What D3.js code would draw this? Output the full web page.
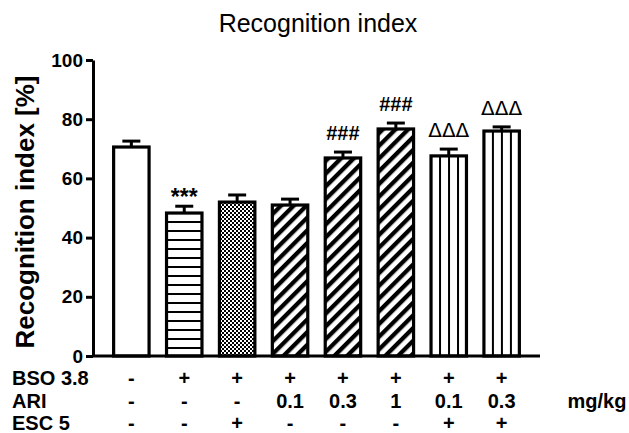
<!DOCTYPE html>
<html>
<head>
<meta charset="utf-8">
<script src="https://cdn.jsdelivr.net/npm/d3@7"></script>
<style>
  html, body { margin: 0; padding: 0; background: #fff; }
  svg { display: block; }
  text { font-family: "Liberation Sans", Arial, sans-serif; fill: #000; }
</style>
</head>
<body>
<svg id="chart" width="629" height="433"></svg>
<script>
// Group means and SEM of the recognition index (%)
const groups = ["g1", "g2", "g3", "g4", "g5", "g6", "g7", "g8"];
const means = [70.6, 48.3, 52.0, 51.0, 66.9, 76.7, 67.6, 76.0];
const sems = [2.0, 2.3, 2.4, 2.0, 2.0, 2.0, 2.3, 1.4];
const marks = ["", "***", "", "", "###", "###", "\u0394\u0394\u0394", "\u0394\u0394\u0394"];
const yTicks = [0, 20, 40, 60, 80, 100];

// Treatment table under the bars
const rowLabels = ["BSO 3.8", "ARI", "ESC 5"];
const bsoRow = ["-", "+", "+", "+", "+", "+", "+", "+"];
const ariRow = ["-", "-", "-", "0.1", "0.3", "1", "0.1", "0.3"];
const escRow = ["-", "-", "+", "-", "-", "-", "+", "+"];
const unitLabel = "mg/kg";

// fill pattern of each bar
const fills = ["white", "url(#hlines)", "url(#checker)", "url(#diag)", "url(#diag)", "url(#diag)", "vlines", "vlines"];

const svg = d3.select("#chart");
const plot = { left: 93, right: 540, top: 60, bottom: 356 };

const x = d3.scaleBand()
  .domain(groups)
  .range([plot.left, plot.right])
  .paddingInner(0.33)
  .paddingOuter(0.39);

const y = d3.scaleLinear().domain([0, 100]).range([plot.bottom, plot.top]);

const defs = svg.append("defs");

// horizontal lines
const hl = defs.append("pattern").attr("id", "hlines")
  .attr("patternUnits", "userSpaceOnUse").attr("width", 9).attr("height", 9)
  .attr("y", y(0));
hl.append("rect").attr("width", 9).attr("height", 9).attr("fill", "white");
hl.append("rect").attr("y", 0).attr("width", 9).attr("height", 2).attr("fill", "black");

// fine checker mesh
const ck = defs.append("pattern").attr("id", "checker")
  .attr("patternUnits", "userSpaceOnUse").attr("width", 4).attr("height", 4);
ck.append("rect").attr("width", 4).attr("height", 4).attr("fill", "black");
ck.append("rect").attr("x", 0).attr("y", 0).attr("width", 2).attr("height", 2).attr("fill", "white");
ck.append("rect").attr("x", 2).attr("y", 2).attr("width", 2).attr("height", 2).attr("fill", "white");

// diagonal hatch "/"
const dg = defs.append("pattern").attr("id", "diag")
  .attr("patternUnits", "userSpaceOnUse").attr("width", 9).attr("height", 9)
  .attr("patternTransform", "rotate(45)");
dg.append("rect").attr("width", 9).attr("height", 9).attr("fill", "white");
dg.append("rect").attr("x", 0).attr("width", 4.3).attr("height", 9).attr("fill", "black");

// vertical lines, one pattern per bar so the lines start from its left edge
groups.forEach((g, i) => {
  if (fills[i] !== "vlines") return;
  const p = defs.append("pattern").attr("id", "vl-" + g)
    .attr("patternUnits", "userSpaceOnUse").attr("width", 9).attr("height", 9)
    .attr("x", x(g) - 1);
  p.append("rect").attr("width", 9).attr("height", 9).attr("fill", "white");
  p.append("rect").attr("x", 0).attr("width", 2).attr("height", 9).attr("fill", "black");
});

// bars
svg.append("g").selectAll("rect")
  .data(groups)
  .join("rect")
  .attr("x", g => x(g))
  .attr("y", (g, i) => y(means[i]))
  .attr("width", x.bandwidth())
  .attr("height", (g, i) => y(0) - y(means[i]))
  .attr("fill", (g, i) => fills[i] === "vlines" ? `url(#vl-${g})` : fills[i])
  .attr("stroke", "black")
  .attr("stroke-width", 3.2);

// error bars (upper half)
const capW = 18;
const eb = svg.append("g").attr("stroke", "black").attr("stroke-width", 3);
groups.forEach((g, i) => {
  const cx = x(g) + x.bandwidth() / 2;
  eb.append("line").attr("x1", cx).attr("x2", cx)
    .attr("y1", y(means[i])).attr("y2", y(means[i] + sems[i]));
  eb.append("line").attr("x1", cx - capW / 2).attr("x2", cx + capW / 2)
    .attr("y1", y(means[i] + sems[i])).attr("y2", y(means[i] + sems[i]));
});

// significance marks
svg.append("g").selectAll("text")
  .data(groups)
  .join("text")
  .attr("x", g => x(g) + x.bandwidth() / 2)
  .attr("y", (g, i) => y(means[i] + sems[i]) - (marks[i] === "***" ? 1 : 12))
  .attr("text-anchor", "middle")
  .attr("font-size", (g, i) => marks[i] === "***" ? 23 : 20)
  .attr("font-weight", (g, i) => marks[i].startsWith("\u0394") ? "normal" : "bold")
  .style("font-family", (g, i) => marks[i].startsWith("\u0394") ? "'DejaVu Sans', sans-serif" : null)
  .text((g, i) => marks[i]);

// y axis
const yAxis = svg.append("g")
  .attr("transform", `translate(${plot.left},0)`)
  .call(d3.axisLeft(y).tickValues(yTicks).tickSize(7).tickPadding(3).tickSizeOuter(0));
yAxis.select(".domain").attr("stroke-width", 3).attr("stroke", "black");
yAxis.selectAll(".tick line").attr("stroke-width", 3).attr("stroke", "black");
yAxis.selectAll(".tick text")
  .attr("font-size", 19).attr("font-weight", "bold")
  .style("font-family", "'Liberation Sans', Arial, sans-serif");

// x axis baseline
svg.append("line")
  .attr("x1", plot.left).attr("x2", plot.right)
  .attr("y1", y(0)).attr("y2", y(0))
  .attr("stroke", "black").attr("stroke-width", 3);

// y axis title
svg.append("text")
  .attr("transform", `translate(34,${(plot.top + plot.bottom) / 2 + 4}) rotate(-90)`)
  .attr("text-anchor", "middle")
  .attr("font-size", 26).attr("font-weight", "bold")
  .text("Recognition index [%]");

// chart title
svg.append("text")
  .attr("x", 318).attr("y", 32)
  .attr("text-anchor", "middle")
  .attr("font-size", 25)
  .text("Recognition index");

// treatment table
const rows = [bsoRow, ariRow, escRow];
const rowBase = [385, 408, 430];
rows.forEach((vals, r) => {
  svg.append("text").attr("x", 12).attr("y", rowBase[r])
    .attr("font-size", 20).attr("font-weight", "bold").text(rowLabels[r]);
  svg.append("g").selectAll("text")
    .data(groups)
    .join("text")
    .attr("x", g => x(g) + x.bandwidth() / 2)
    .attr("y", rowBase[r])
    .attr("text-anchor", "middle")
    .attr("font-size", 20).attr("font-weight", "bold")
    .text((g, i) => vals[i]);
});
svg.append("text").attr("x", 597).attr("y", rowBase[1])
  .attr("text-anchor", "middle")
  .attr("font-size", 20).attr("font-weight", "bold").text(unitLabel);
</script>
</body>
</html>
